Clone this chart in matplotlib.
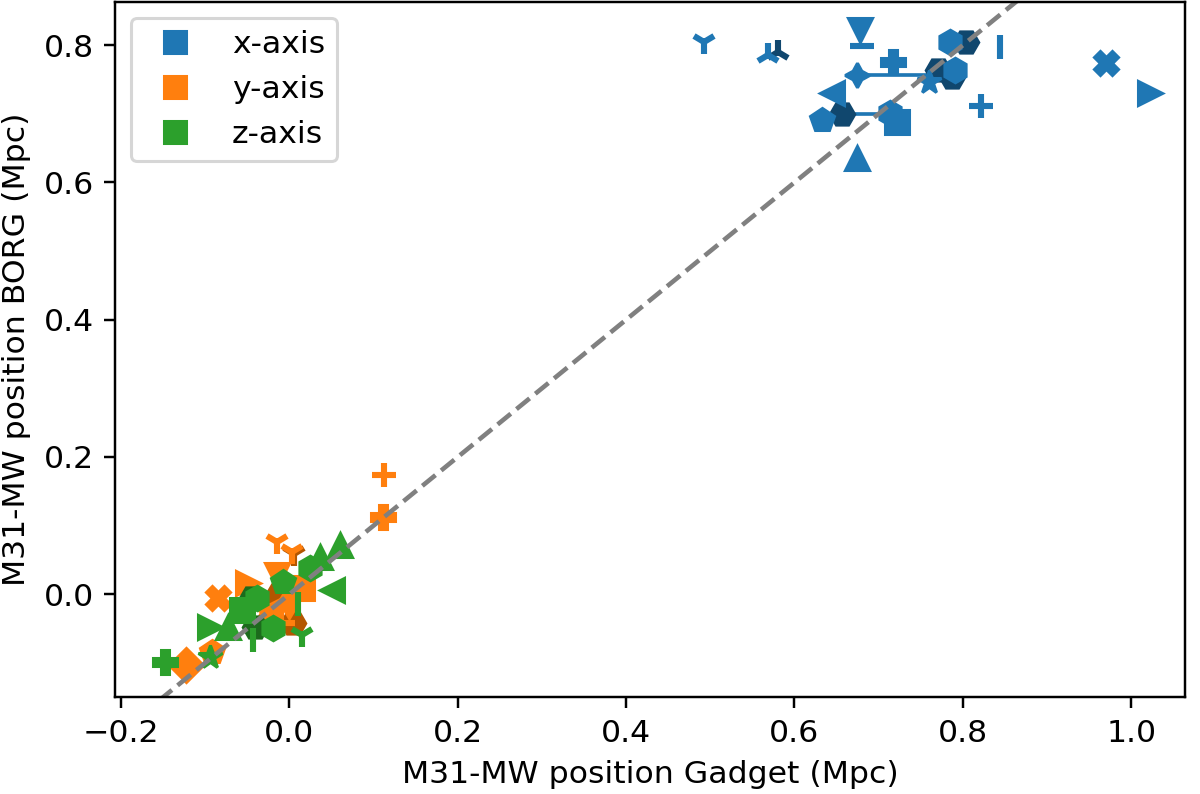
import matplotlib.pyplot as plt
from matplotlib.lines import Line2D

plt.rcParams['font.size'] = 10.3

# M31-MW separation, Gadget vs BORG (Mpc), one marker per realisation
# x-axis projection
x_gadget = [0.492, 0.568, 0.678, 0.680, 0.674, 0.645, 0.633, 0.674, 0.717, 0.760,
            0.785, 0.791, 0.844, 0.822, 0.970, 1.023, 0.714, 0.722]
x_borg = [0.805, 0.786, 0.822, 0.799, 0.757, 0.731, 0.691, 0.636, 0.776, 0.747,
          0.804, 0.764, 0.797, 0.711, 0.774, 0.731, 0.701, 0.688]
x_markers = ['1', '2', 'v', '_', (4, 1, 0), '<', 'p', '^', 'P', '*',
             'h', 'h', '|', '+', 'X', '>', 'h', 's']

# y-axis projection
y_gadget = [-0.015, 0.003, -0.015, -0.049, -0.085, -0.123, -0.092, -0.023, 0.015,
            0.112, 0.111, -0.008, -0.030, 0.000]
y_borg = [0.076, 0.062, 0.028, 0.016, -0.006, -0.103, -0.084, -0.023, 0.009,
          0.174, 0.113, -0.042, -0.035, -0.010]
y_markers = ['1', '1', 'v', '>', 'X', 'D', 'p', '<', 's',
             '+', 'P', '_', '^', 'd']

# z-axis projection
z_gadget = [-0.148, -0.094, -0.094, -0.056, -0.073, -0.038, -0.0075, 0.025, 0.036,
            0.060, 0.051, -0.019, 0.015, -0.043, 0.010]
z_borg = [-0.099, -0.091, -0.048, -0.023, -0.048, -0.005, 0.018, 0.038, 0.054,
          0.072, 0.006, -0.049, -0.060, -0.067, -0.015]
z_markers = ['P', '*', '>', 's', '^', 'h', 'p', 'h', '^',
             '^', '<', 'h', '1', '|', '|']

# darker points (mean realisation)
xd_gadget = [0.657, 0.770, 0.804, 0.787, 0.581]
xd_borg = [0.700, 0.764, 0.805, 0.754, 0.790]
xd_markers = ['H', 'H', 'H', 'H', '2']
yd_gadget = [0.004, 0.006, -0.013]
yd_borg = [-0.042, 0.059, -0.001]
yd_markers = ['H', '1', 'H']
zd_gadget = [-0.041, -0.045]
zd_borg = [-0.048, -0.006]
zd_markers = ['H', 'H']

# connecting segments (gadget start, gadget end, borg)
x_seg = [(0.674, 0.771, 0.757), (0.657, 0.705, 0.700)]
y_seg = [(-0.010, 0.004, -0.042)]

c_x, c_y, c_z = '#1f77b4', '#ff7f0e', '#2ca02c'
d_x, d_y, d_z = '#10476e', '#b35600', '#1c6b1c'

line_markers = ['1', '2', '3', '4', '+', 'x', '|', '_']


def draw(ax, gx, gy, marks, color):
    for a, b, m in zip(gx, gy, marks):
        if m in line_markers:
            ax.plot(a, b, marker=m, color=color, ms=8, mew=2, ls='none')
        else:
            ax.plot(a, b, marker=m, color=color, ms=8, ls='none')


fig, ax = plt.subplots(figsize=(1200 / 220, 794 / 220), dpi=220)

for seg in x_seg:
    ax.plot([seg[0], seg[1]], [seg[2], seg[2]], color=c_x, lw=1.2)
for seg in y_seg:
    ax.plot([seg[0], seg[1]], [seg[2], seg[2]], color=c_y, lw=1.2)

draw(ax, xd_gadget, xd_borg, xd_markers, d_x)
draw(ax, x_gadget, x_borg, x_markers, c_x)
draw(ax, yd_gadget, yd_borg, yd_markers, d_y)
draw(ax, y_gadget, y_borg, y_markers, c_y)
draw(ax, zd_gadget, zd_borg, zd_markers, d_z)
draw(ax, z_gadget, z_borg, z_markers, c_z)

ax.plot([-0.2, 1.0], [-0.2, 1.0], color='grey', ls='--', lw=1.5)

ax.set_xlim(-0.207, 1.064)
ax.set_ylim(-0.150, 0.863)
ax.set_xlabel('M31-MW position Gadget (Mpc)')
ax.set_ylabel('M31-MW position BORG (Mpc)')

handles = [Line2D([], [], marker='s', color=c, ls='none', ms=7.5) for c in (c_x, c_y, c_z)]
ax.legend(handles, ['x-axis', 'y-axis', 'z-axis'], loc='upper left')

plt.subplots_adjust(left=0.096, right=0.9875, bottom=0.122, top=0.9975)
plt.savefig('out.png')
